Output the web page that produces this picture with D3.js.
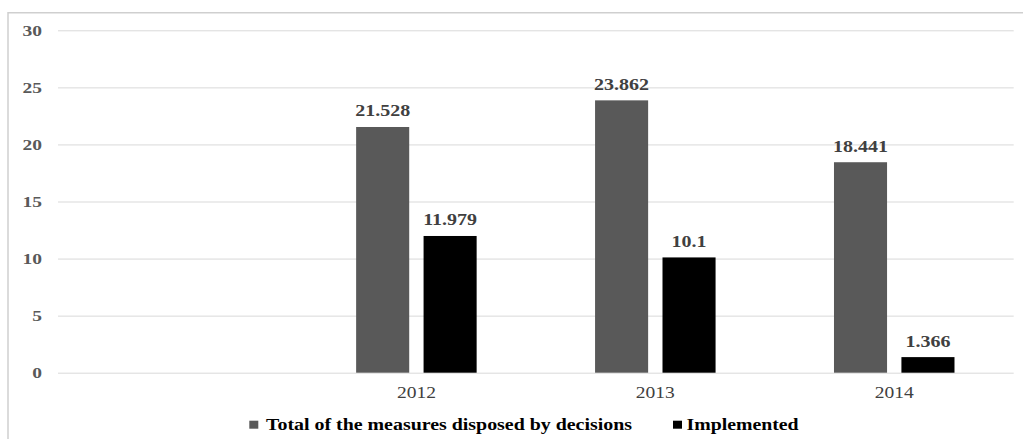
<!DOCTYPE html>
<html>
<head>
<meta charset="utf-8">
<script src="https://cdn.jsdelivr.net/npm/d3@7"></script>
<style>
  html, body { margin: 0; padding: 0; background: #ffffff; }
  svg { display: block; }
  svg text { font-family: "Liberation Serif", "Tinos", "Times New Roman", Times, "DejaVu Serif", "Noto Serif", serif; }
</style>
</head>
<body>
<svg id="chart" width="1023" height="439"></svg>
<script>
// Categories along the x axis (the first slot is left empty)
const categories = ["", "2012", "2013", "2014"];
// Series values (millions)
const totalMeasures = [null, 21.528, 23.862, 18.441];
const implemented = [null, 11.979, 10.1, 1.366];
// Series names shown in the legend
const seriesNames = ["Total of the measures disposed by decisions", "Implemented"];
const seriesColors = ["#595959", "#000000"];
// Value axis ticks
const yTicks = [0, 5, 10, 15, 20, 25, 30];

const W = 1023, H = 439;
const plot = { left: 58, right: 1013.7, top: 30.3, bottom: 372.7 };
const stretch = 1.3; // horizontal widening applied to the text glyphs

const svg = d3.select("#chart");

// Chart frame (top and left edges)
svg.append("path")
  .attr("d", `M8,${H} L8,12.7 L${W},12.7`)
  .attr("fill", "none")
  .attr("stroke", "#cfcfcf")
  .attr("stroke-width", 1.5);

const y = d3.scaleLinear().domain([0, 30]).range([plot.bottom, plot.top]);
const x0 = d3.scaleBand().domain(categories).range([plot.left, plot.right]).padding(0);
const x1 = d3.scaleBand().domain([0, 1])
  .range([0, x0.bandwidth()])
  .paddingInner(0.213)
  .paddingOuter(0.878);

// Gridlines + value-axis labels
const yAxis = svg.append("g")
  .attr("transform", `translate(${plot.left},0)`)
  .call(d3.axisLeft(y).tickValues(yTicks).tickSize(-(plot.right - plot.left)).tickPadding(16));
yAxis.attr("font-family", null);
yAxis.select(".domain").remove();
yAxis.selectAll(".tick line").attr("stroke", "#d9d9d9").attr("stroke-width", 1);
yAxis.selectAll(".tick text")
  .attr("x", -16 / stretch)
  .attr("transform", `scale(${stretch},1)`)
  .attr("font-size", 15)
  .attr("font-weight", "bold")
  .attr("fill", "#595959");

// Category axis labels
const xAxis = svg.append("g")
  .attr("transform", `translate(0,${plot.bottom})`)
  .call(d3.axisBottom(x0).tickSize(0).tickPadding(0));
xAxis.attr("font-family", null);
xAxis.select(".domain").remove();
xAxis.selectAll(".tick text")
  .attr("y", 0)
  .attr("dy", 0)
  .attr("transform", `translate(0,25.5) scale(1.22,1)`)
  .attr("font-size", 16)
  .attr("fill", "#404040");

// Bars and value labels
const series = [totalMeasures, implemented];
series.forEach((vals, si) => {
  const g = svg.append("g");
  const rows = categories.map((c, i) => ({ c, v: vals[i] })).filter(d => d.v != null);
  g.selectAll("rect")
    .data(rows)
    .join("rect")
    .attr("x", d => x0(d.c) + x1(si))
    .attr("y", d => y(d.v))
    .attr("width", x1.bandwidth())
    .attr("height", d => y(0) - y(d.v))
    .attr("fill", seriesColors[si]);
  g.selectAll("text")
    .data(rows)
    .join("text")
    .attr("transform", d => `translate(${x0(d.c) + x1(si) + x1.bandwidth() / 2},${y(d.v) - 10.5}) scale(1.25,1)`)
    .attr("text-anchor", "middle")
    .attr("font-size", 16)
    .attr("font-weight", "bold")
    .attr("fill", "#404040")
    .text(d => String(d.v));
});

// Legend
const legendItems = [
  { name: seriesNames[0], color: seriesColors[0], sx: 249.3, tx: 266, len: 366 },
  { name: seriesNames[1], color: seriesColors[1], sx: 673, tx: 686.5, len: 112 }
];
const legend = svg.append("g");
legendItems.forEach(it => {
  legend.append("rect")
    .attr("x", it.sx).attr("y", 420.7)
    .attr("width", 9).attr("height", 8)
    .attr("fill", it.color);
  legend.append("text")
    .attr("x", it.tx).attr("y", 430)
    .attr("font-size", 16)
    .attr("font-weight", "bold")
    .attr("fill", "#000000")
    .attr("textLength", it.len)
    .attr("lengthAdjust", "spacingAndGlyphs")
    .text(it.name);
});
</script>
</body>
</html>
